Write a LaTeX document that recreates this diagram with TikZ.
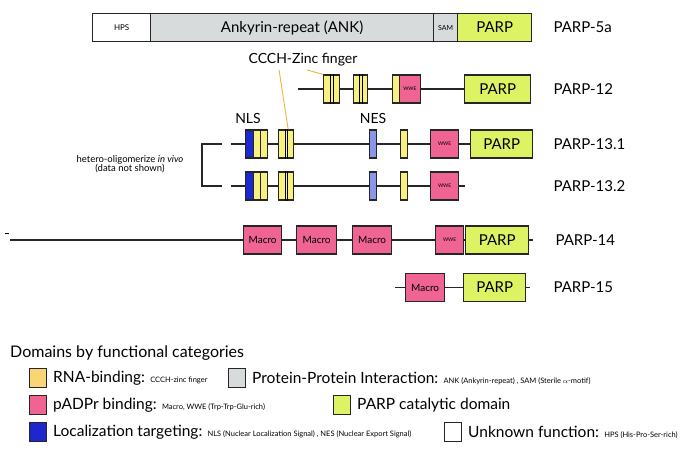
\documentclass[tikz,border=0pt]{standalone}
\usepackage{fontspec}
\setmainfont{Lato}
\usetikzlibrary{calc,backgrounds}
\definecolor{zfyellow}{RGB}{246,241,128}
\definecolor{lgyellow}{RGB}{248,214,118}
\definecolor{macpink}{RGB}{240,100,148}
\definecolor{parpgreen}{RGB}{222,243,100}
\definecolor{ankgray}{RGB}{216,219,219}
\definecolor{nlsblue}{RGB}{28,40,205}
\definecolor{nesblue}{RGB}{140,150,232}
\definecolor{zforange}{RGB}{242,176,58}
\newcommand{\fs}[1]{\fontsize{#1}{#1}\selectfont}
\newcommand{\prbox}[6]{\node[dom,fill=#2,minimum width=#4pt] (#1) at (#3,#5) {#6};}
\newcommand{\zfdiv}[2]{\draw[line width=1pt] ($(#1.north west)+(#2,0)$) -- ($(#1.south west)+(#2,0)$);}
\tikzset{
  dom/.style={draw=black!85,line width=1.3pt,inner sep=0pt,minimum height=28pt,anchor=west},
  bb/.style={line width=1.4pt,black!85},
  zfline/.style={line width=0.9pt,zforange},
  plabel/.style={anchor=west,font=\fs{15}},
  legsq/.style={draw=black!85,line width=1pt,minimum width=17pt,minimum height=19pt,inner sep=0pt,anchor=west},
  legtxt/.style={anchor=west,inner sep=0pt,font=\fs{15.5}}
}

\begin{document}
\begin{tikzpicture}[x=1pt,y=-1pt]
    \useasboundingbox (0,0) rectangle (692,457);

    % PARP-5a
    \prbox{hps}{white}{92}{58}{27.5}{\fs{8}HPS}
    \prbox{ank}{ankgray}{150}{283}{27.5}{\fs{15}Ankyrin-repeat (ANK)}
    \prbox{sam}{ankgray}{433}{24}{27.5}{\fs{7}SAM}
    \prbox{parpa}{parpgreen}{457}{74}{27.5}{\fs{15}PARP}
    \node[plabel] (lba) at (550,27.5) {PARP-5a};

    % PARP-12
    \coordinate (sb) at (298,89);
    \prbox{zfa}{zfyellow}{323}{16}{89}{}
    \zfdiv{zfa}{7}
    \zfdiv{zfa}{10}
    \prbox{zfb}{zfyellow}{353}{14}{89}{}
    \zfdiv{zfb}{6.5}
    \zfdiv{zfb}{9}
    \prbox{zfbb}{zfyellow}{392}{6.5}{89}{}
    \prbox{wweb}{macpink}{398.5}{21.5}{89}{\fs{5}WWE}
    \prbox{parpb}{parpgreen}{464}{66}{89}{\fs{15}PARP}
    \node[plabel] (lbb) at (550,89) {PARP-12};
    \begin{scope}[on background layer]
      \draw[bb] (sb) -- (parpb);
    \end{scope}

    \node[font=\fs{14}] (zflab) at (303,60) {CCCH-Zinc finger};

    % PARP-13.1
    \node[font=\fs{14}] (nlslab) at (248,118) {NLS};
    \node[font=\fs{14}] (neslab) at (373,118) {NES};
    \coordinate (bc) at (222,144);
    \coordinate (sc) at (231,144);
    \prbox{nlsc}{nlsblue}{245}{8}{144}{}
    \prbox{zfc}{zfyellow}{253}{7}{144}{}
    \prbox{zfcc}{zfyellow}{260}{7}{144}{}
    \prbox{zfd}{zfyellow}{278}{15}{144}{}
    \zfdiv{zfd}{7}
    \zfdiv{zfd}{9.5}
    \prbox{nesc}{nesblue}{369}{7}{144}{}
    \prbox{zfe}{zfyellow}{400}{7}{144}{}
    \prbox{wwec}{macpink}{430}{28}{144}{\fs{5}WWE}
    \prbox{parpc}{parpgreen}{470}{62}{144}{\fs{15}PARP}
    \node[plabel] (lbc) at (550,144) {PARP-13.1};

    % PARP-13.2
    \coordinate (bd) at (222,186);
    \coordinate (sd) at (231,186);
    \coordinate (ed) at (465,186);
    \prbox{nlsd}{nlsblue}{245}{8}{186}{}
    \prbox{zfg}{zfyellow}{253}{7}{186}{}
    \prbox{zfgg}{zfyellow}{260}{7}{186}{}
    \prbox{zfh}{zfyellow}{278}{15}{186}{}
    \zfdiv{zfh}{7}
    \zfdiv{zfh}{9.5}
    \prbox{nesd}{nesblue}{369}{7}{186}{}
    \prbox{zfi}{zfyellow}{400}{7}{186}{}
    \prbox{wwed}{macpink}{430}{28}{186}{\fs{5}WWE}
    \node[plabel] (lbd) at (550,186) {PARP-13.2};

    \begin{scope}[on background layer]
      \draw[bb] (sc) -- (parpc);
      \draw[bb] (sd) -- (ed);
    \end{scope}
    \draw[bb] (bc) -- ++(-20,0) |- (bd);
    \node[align=center,font=\fs{9.5}] (hetero) at (130,164)
      {hetero-oligomerize \textit{in vivo}\\(data not shown)};

    % zinc finger pointers
    \draw[zfline] ($(zflab.south)+(4,0)$) -- (zfa.north west);
    \draw[zfline] ($(zflab.south west)+(34,0)$) -- ($(zfd.north)+(2,0)$);

    % PARP-14
    \draw[line width=1pt] (5,233) -- (9,233);
    \coordinate (se) at (10,240);
    \coordinate (ee) at (533,240);
    \prbox{maca}{macpink}{243}{38}{240}{\fs{10}Macro}
    \prbox{macb}{macpink}{296}{40}{240}{\fs{10}Macro}
    \prbox{macc}{macpink}{352}{39}{240}{\fs{10}Macro}
    \prbox{wwee}{macpink}{435}{28}{240}{\fs{5}WWE}
    \prbox{parpe}{parpgreen}{465}{63}{240}{\fs{15}PARP}
    \node[plabel] (lbe) at (552,240) {PARP-14};

    % PARP-15
    \coordinate (sf) at (395,287.5);
    \coordinate (ef) at (530,287.5);
    \prbox{macf}{macpink}{405}{39}{287.5}{\fs{10}Macro}
    \prbox{parpf}{parpgreen}{463}{62}{287.5}{\fs{15}PARP}
    \node[plabel] (lbf) at (550,287.5) {PARP-15};

    \begin{scope}[on background layer]
      \draw[bb] (se) -- (ee);
      \draw[bb] (sf) -- (ef);
    \end{scope}

    % legend
    \node[legtxt,font=\fs{16}] (legt) at (10,353) {Domains by functional categories};
    \node[legsq,fill=lgyellow] (sqa) at (29,378) {};
    \node[legtxt] (lta) at (53,378) {RNA-binding: {\fs{7.5}CCCH-zinc finger}};
    \node[legsq,fill=ankgray] (sqb) at (228,378) {};
    \node[legtxt] (ltb) at (252,378) {Protein-Protein Interaction: {\fs{7.5}ANK (Ankyrin-repeat) , SAM (Sterile $\alpha$-motif)}};
    \node[legsq,fill=macpink] (sqc) at (29,405) {};
    \node[legtxt] (ltc) at (53,405) {pADPr binding: {\fs{7.5}Macro, WWE (Trp-Trp-Glu-rich)}};
    \node[legsq,fill=parpgreen] (sqd) at (333,405) {};
    \node[legtxt] (ltd) at (357,405) {PARP catalytic domain};
    \node[legsq,fill=nlsblue] (sqe) at (29,432) {};
    \node[legtxt] (lte) at (53,432) {Localization targeting: {\fs{7.5}NLS (Nuclear Localization Signal) , NES (Nuclear Export Signal)}};
    \node[legsq,fill=white] (sqf) at (444,432) {};
    \node[legtxt] (ltf) at (468,432) {Unknown function: {\fs{7.5}HPS (His-Pro-Ser-rich)}};
\end{tikzpicture}
\end{document}
